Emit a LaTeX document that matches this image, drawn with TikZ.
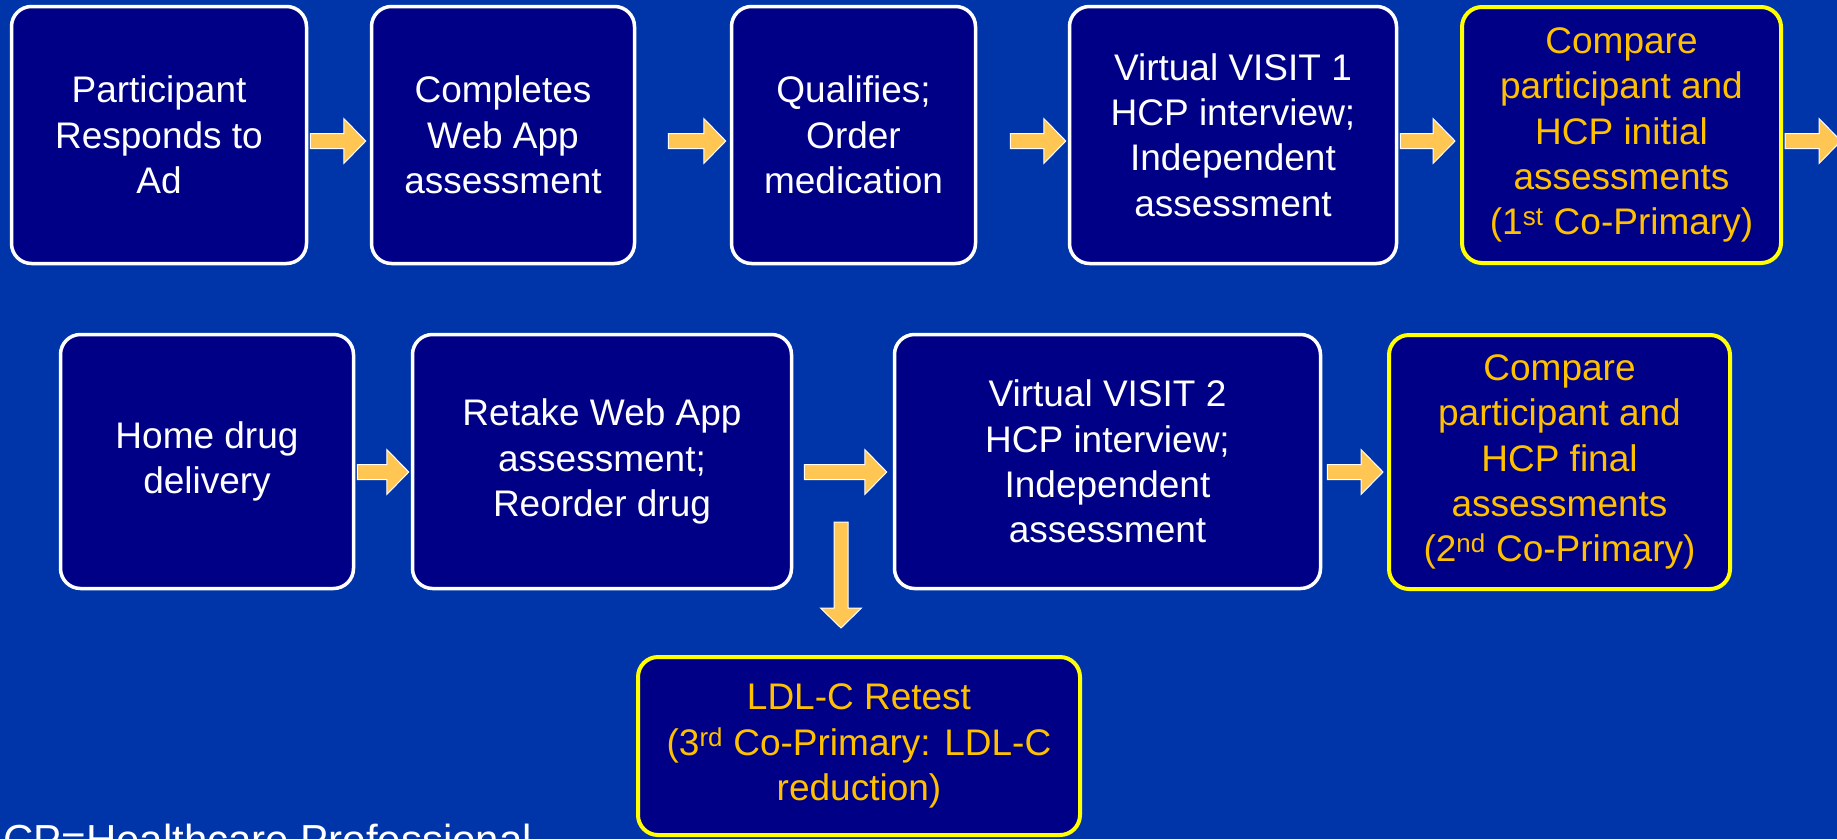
\documentclass[tikz,border=0pt]{standalone}
\usepackage{fontspec}
\setmainfont{Liberation Sans}
\usetikzlibrary{calc}

\definecolor{bgblue}{HTML}{0035AA}
\definecolor{boxnavy}{HTML}{000086}
\definecolor{amber}{HTML}{FFC000}
\definecolor{arrowgold}{HTML}{FFC653}
\definecolor{hiyellow}{HTML}{FFFF00}

\tikzset{
  stepbox/.style={draw=white, line width=3.5pt, fill=boxnavy, rounded corners=20pt,
    text=white, align=center, inner sep=0pt,
    font=\fontsize{37}{45.3}\selectfont},
  keybox/.style={stepbox, draw=hiyellow, line width=4pt, text=amber},
  blockarrow/.style={fill=arrowgold, draw=white, line width=1pt, line join=miter},
  notetext/.style={text=white, inner sep=0pt, font=\fontsize{42}{50}\selectfont},
}

% horizontal block arrow: source, target, gap at start, gap at end, height (pixels from top)
\newcommand\hconn[5]{%
  \path[blockarrow] let \p1=(#1.east), \p2=(#2.west) in
    (\x1+#3pt,-#5pt+7.5pt) -- (\x2-#4pt-22pt,-#5pt+7.5pt) -- (\x2-#4pt-22pt,-#5pt+22.5pt)
    -- (\x2-#4pt,-#5pt) -- (\x2-#4pt-22pt,-#5pt-22.5pt) -- (\x2-#4pt-22pt,-#5pt-7.5pt)
    -- (\x1+#3pt,-#5pt-7.5pt) -- cycle;}

\begin{document}
\begin{tikzpicture}[x=1pt,y=1pt]
  \useasboundingbox (0,0) rectangle (1837,-839);
  \clip (0,0) rectangle (1837,-839);
  \fill[bgblue] (0,0) rectangle (1837,-839);

  % first row
  \node[stepbox, minimum width=295, minimum height=257] (b1) at (159,-135)
    {Participant\\Responds to\\Ad};
  \node[stepbox, minimum width=263, minimum height=257] (b2) at (503,-135)
    {Completes\\Web App\\assessment};
  \node[stepbox, minimum width=244, minimum height=257] (b3) at (853.5,-135)
    {Qualifies;\\Order\\medication};
  \node[stepbox, minimum width=327, minimum height=257] (b4) at (1233,-135)
    {Virtual VISIT 1\\HCP interview;\\Independent\\assessment};
  \node[keybox, minimum width=319, minimum height=256] (b5) at (1621.5,-135)
    {Compare\\participant and\\HCP initial\\assessments\\(1\textsuperscript{st} Co-Primary)};

  % second row
  \node[stepbox, minimum width=293, minimum height=254] (b6) at (207,-461.5)
    {Home drug\\delivery};
  \node[stepbox, minimum width=379, minimum height=254] (b7) at (602,-461.5)
    {Retake Web App\\assessment;\\Reorder drug};
  \node[stepbox, minimum width=426, minimum height=254] (b8) at (1107.5,-461.5)
    {Virtual VISIT 2\\HCP interview;\\Independent\\assessment};
  \node[keybox, minimum width=341, minimum height=254] (b9) at (1559.5,-462)
    {Compare\\participant and\\HCP final\\assessments\\(2\textsuperscript{nd} Co-Primary)};

  % third co-primary
  \node[keybox, minimum width=442, minimum height=178] (ldl) at (859,-746)
    {LDL-C Retest\\(3\textsuperscript{rd} Co-Primary: LDL-C\\reduction)};

  \node[notetext, anchor=base west] (note) at (3,-854) {CP=Healthcare Professional};

  \coordinate (exit) at (1841,-141);
  \coordinate (split) at (841,-522);

  % connectors
  \hconn{b1}{b2}{2}{4}{141}
  \hconn{b2}{b3}{32}{4}{141}
  \hconn{b3}{b4}{33}{2}{141}
  \hconn{b4}{b5}{2}{5}{141}
  \path[blockarrow] let \p1=(b5.east), \p2=(exit) in
    (\x1+2pt,\y2+7.5pt) -- (\x2-22pt,\y2+7.5pt) -- (\x2-22pt,\y2+22.5pt) -- (\x2,\y2)
    -- (\x2-22pt,\y2-22.5pt) -- (\x2-22pt,\y2-7.5pt) -- (\x1+2pt,\y2-7.5pt) -- cycle;
  \hconn{b6}{b7}{2}{2}{472}
  \hconn{b7}{b8}{11}{6}{472}
  \hconn{b8}{b9}{5}{4}{472}
  \path[blockarrow] let \p1=(split), \p2=(ldl.north) in
    (\x1-7pt,\y1) -- (\x1-7pt,\y2+47pt) -- (\x1-20.5pt,\y2+47pt) -- (\x1,\y2+27pt)
    -- (\x1+20.5pt,\y2+47pt) -- (\x1+7pt,\y2+47pt) -- (\x1+7pt,\y1) -- cycle;
\end{tikzpicture}
\end{document}
